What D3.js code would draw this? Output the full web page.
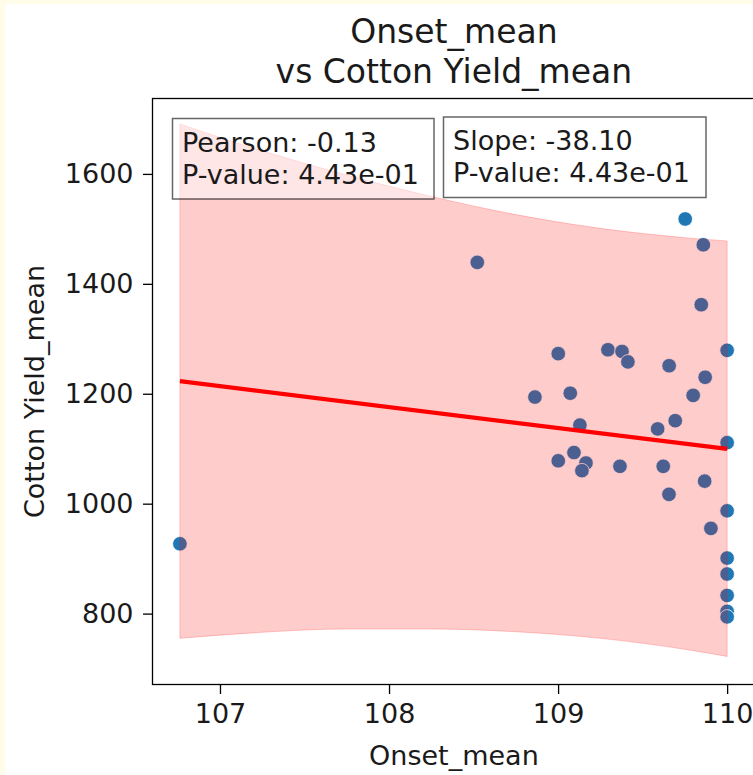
<!DOCTYPE html>
<html><head><meta charset="utf-8">
<script src="https://cdn.jsdelivr.net/npm/d3@7"></script>
<style>body{margin:0;background:#fffde9;} svg{display:block;font-family:"DejaVu Sans",sans-serif;}</style>
</head><body><svg id="c" width="753" height="775"></svg>
<script>
// ---- data ----
const onsetMean = [106.763,108.522,109.752,109.859,109.847,110.000,109.001,109.295,109.378,109.413,
  109.657,109.870,109.799,108.863,109.072,109.129,109.693,109.589,110.000,109.001,
  109.094,109.165,109.141,109.366,109.622,109.867,109.656,110.000,109.904,110.000,
  110.000,110.000,110.000,110.000];
const yieldMean = [927,1439,1518,1471,1362,1279,1273,1280,1277,1258,
  1251,1230,1197,1194,1201,1143,1151,1136,1111,1078,
  1093,1074,1060,1068,1068,1041,1017,987,955,901,
  872,833,804,794];
const bandX     = [106.763,107.25,107.75,108.25,108.75,109.25,109.75,110.0];
const bandUpper = [1691,1642,1598,1559,1526,1501,1484,1478];
const bandLower = [755,766,772,772,767,755,735,722];
const fitX = [106.763,110.0];
const fitY = [1223,1099.6];
const xTicks = [107,108,109,110];
const yTicks = [800,1000,1200,1400,1600];
const titleLines = ["Onset_mean","vs Cotton Yield_mean"];
const xLabel = "Onset_mean";
const yLabel = "Cotton Yield_mean";
const box1Lines = ["Pearson: -0.13","P-value: 4.43e-01"];
const box2Lines = ["Slope: -38.10","P-value: 4.43e-01"];

// ---- layout ----
const L=152.5, R=755.3, T=98.5, B=684.5;
const TXT="#1a1a1a";
const svg = d3.select("#c");
svg.append("rect").attr("x",5).attr("y",4).attr("width",760).attr("height",780).attr("fill","#fff");

const x = d3.scaleLinear().domain([106.6008,110.1666]).range([L,R]);
const y = d3.scaleLinear().domain([671,1737.2]).range([B,T]);

// points
svg.append("g").selectAll("circle").data(onsetMean.map((v,i)=>[v,yieldMean[i]])).join("circle")
  .attr("cx",d=>x(d[0])).attr("cy",d=>y(d[1])).attr("r",7.3)
  .attr("fill","#1f77b4").attr("stroke","#fff").attr("stroke-width",0.8);

// band
const bandData = bandX.map((v,i)=>({x:v,u:bandUpper[i],l:bandLower[i]}));
svg.append("path").datum(bandData)
  .attr("d", d3.area().x(d=>x(d.x)).y0(d=>y(d.l)).y1(d=>y(d.u)).curve(d3.curveMonotoneX))
  .attr("fill","red").attr("fill-opacity",0.2)
  .attr("stroke","red").attr("stroke-opacity",0.2).attr("stroke-width",1);

// fit line
svg.append("path").datum(fitX.map((v,i)=>[v,fitY[i]]))
  .attr("d", d3.line().x(d=>x(d[0])).y(d=>y(d[1])))
  .attr("stroke","red").attr("stroke-width",4.2).attr("fill","none");

// axes
const xa = svg.append("g").attr("transform",`translate(0,${B})`)
  .call(d3.axisBottom(x).tickValues(xTicks).tickSize(9.5).tickPadding(9.5).tickFormat(d3.format("d")));
const ya = svg.append("g").attr("transform",`translate(${L},0)`)
  .call(d3.axisLeft(y).tickValues(yTicks).tickSize(9.5).tickPadding(9.5).tickFormat(d3.format("d")));
[xa,ya].forEach(g=>{
  g.select(".domain").remove();
  g.selectAll("line").attr("stroke","#000").attr("stroke-width",1.3);
  g.selectAll("text").attr("font-size",27).attr("fill",TXT).attr("font-family","DejaVu Sans");
});

// spines
svg.append("rect").attr("x",L).attr("y",T).attr("width",R-L).attr("height",B-T)
  .attr("fill","none").attr("stroke","#000").attr("stroke-width",1.3);

// boxes
function box(x0,y0,w,h,lines,tx){
  svg.append("rect").attr("x",x0).attr("y",y0).attr("width",w).attr("height",h)
    .attr("fill","#fff").attr("fill-opacity",0.5).attr("stroke","#000").attr("stroke-opacity",0.6).attr("stroke-width",1.5);
  lines.forEach((t,i)=>svg.append("text").attr("x",tx).attr("y",y0+33+i*32)
    .attr("font-size",27).attr("fill",TXT).text(t));
}
box(172.5,118.5,261.5,80.5,box1Lines,182);
box(443.5,117,262.5,80.5,box2Lines,453);

// titles
titleLines.forEach((t,i)=>svg.append("text").attr("x",(L+R)/2).attr("y",43+i*40)
  .attr("text-anchor","middle").attr("font-size",33).attr("fill",TXT).text(t));
svg.append("text").attr("x",(L+R)/2).attr("y",765).attr("text-anchor","middle")
  .attr("font-size",27).attr("fill",TXT).text(xLabel);
svg.append("text").attr("transform",`translate(44,${(T+B)/2}) rotate(-90)`).attr("text-anchor","middle")
  .attr("font-size",27).attr("fill",TXT).text(yLabel);
</script></body></html>
